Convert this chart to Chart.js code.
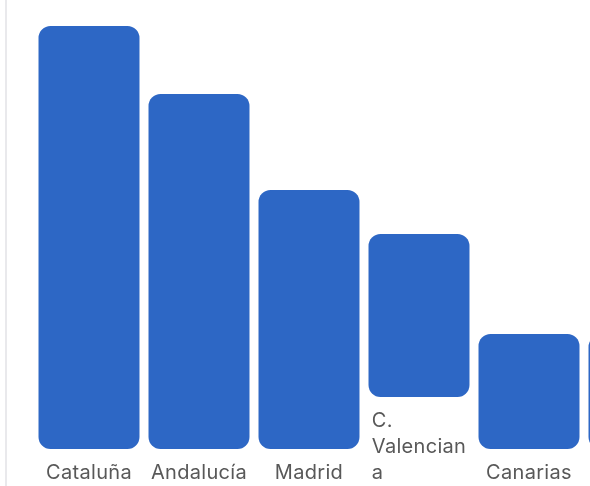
<!DOCTYPE html>
<html>
<head>
<meta charset="utf-8">
<script src="https://cdn.jsdelivr.net/npm/chart.js@4"></script>
<style>
    html, body { margin: 0; padding: 0; background: #fff; overflow: hidden; }
    body { width: 590px; height: 486px; position: relative; }
    #edge { position: absolute; left: 5px; top: 0; width: 2px; height: 486px; background: #e9e9ec; }
    #wrap { position: absolute; left: 0; top: 0; width: 700px; height: 486px; }
</style>
</head>
<body>
<div id="edge"></div>
<div id="wrap"><canvas id="chart"></canvas></div>
<script>
// regions (the 6th one is scrolled out of view on the right)
const categories = ['Cataluña', 'Andalucía', 'Madrid', 'C. Valenciana', 'Canarias', 'Galicia'];
// labels as they wrap under each bar
const tickLabels = [['Cataluña'], ['Andalucía'], ['Madrid'], ['C.', 'Valencian', 'a'], ['Canarias'], ['Galicia']];
const barStarts = [0, 0, 0, 52, 0, 0];     // C. Valenciana is lifted by its 3-line label
const barValues = [423, 355, 259, 163, 115, 114];

const BLUE = 'rgb(45, 103, 197)';

// draw the labels under each bar, block centred, lines left aligned
const regionLabels = {
    id: 'regionLabels',
    afterDatasetsDraw(chart) {
        const ctx = chart.ctx;
        const meta = chart.getDatasetMeta(0);
        ctx.save();
        ctx.font = '20px Inter';
        ctx.letterSpacing = '0.3px';
        ctx.fillStyle = '#585858';
        ctx.textBaseline = 'alphabetic';
        ctx.textAlign = 'left';
        meta.data.forEach((bar, i) => {
            const lines = tickLabels[i];
            const w = Math.max(...lines.map(l => ctx.measureText(l).width));
            const left = bar.x - w / 2;
            lines.forEach((line, j) => ctx.fillText(line, left, bar.base + 30 + j * 26));
        });
        ctx.restore();
    }
};

document.addEventListener('DOMContentLoaded', () => {
    const data = barValues.map((v, i) => [barStarts[i], barStarts[i] + v]);
    new Chart(document.getElementById('chart').getContext('2d'), {
        type: 'bar',
        data: {
            labels: categories,
            datasets: [{
                data: data,
                backgroundColor: BLUE,
                borderRadius: 12,
                borderSkipped: false,
                barPercentage: 1,
                categoryPercentage: 0.918,
            }]
        },
        options: {
            responsive: true,
            maintainAspectRatio: false,
            animation: false,
            layout: { padding: { left: 34, right: 6, top: 26, bottom: 37 } },
            plugins: {
                legend: { display: false },
                tooltip: { enabled: false },
            },
            scales: {
                x: { display: false, offset: true },
                y: { display: false, min: 0, max: 423 },
            },
        },
        plugins: [regionLabels],
    });
});
</script>
</body>
</html>
